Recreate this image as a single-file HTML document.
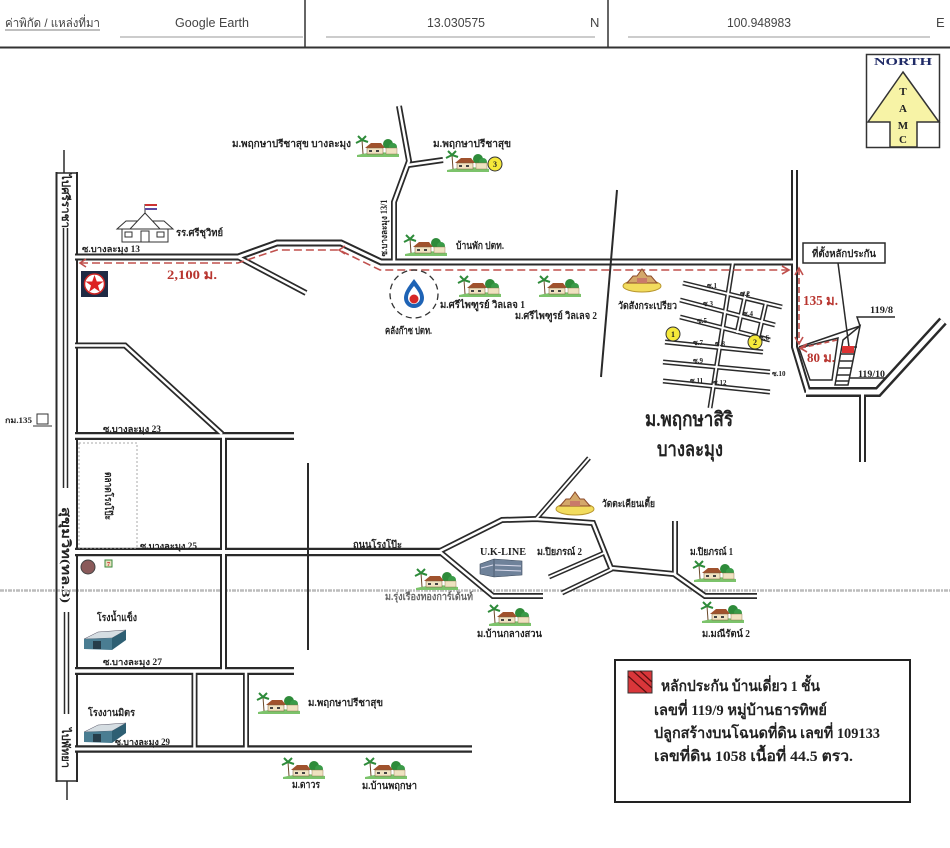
<!DOCTYPE html>
<html><head><meta charset="utf-8"><style>
html,body{margin:0;padding:0;background:#fff;}
svg{display:block;}
text{font-family:"Liberation Serif","DejaVu Serif","Noto Serif CJK SC",serif;font-weight:bold;fill:#222;}
.sans{font-family:"Liberation Sans","DejaVu Sans",sans-serif;font-weight:normal;fill:#444;}
.red{fill:#b8352f;}
</style></head><body>
<svg width="950" height="848" viewBox="0 0 950 848" xmlns="http://www.w3.org/2000/svg">
<defs>
 <g id="v">
  <path d="M2 20 Q22 15 44 19 L44 22 L2 22 Z" fill="#7cc36b"/>
  <line x1="7" y1="5" x2="8" y2="19" stroke="#6b4a2a" stroke-width="1"/>
  <path d="M7 5 L1 8 M7 5 L3 1 M7 5 L11 1 M7 5 L13 7" stroke="#2e8b3a" stroke-width="2" fill="none"/>
  <path d="M10 13 L16 8 L26 8 L30 13 Z" fill="#a0522d"/>
  <rect x="12" y="13" width="16" height="6" fill="#f1e3c2" stroke="#7a5a3a" stroke-width="0.5"/>
  <rect x="14" y="15" width="3" height="2" fill="#444"/><rect x="21" y="15" width="3" height="2" fill="#444"/>
  <circle cx="33" cy="9" r="5" fill="#2e8b3a"/>
  <circle cx="38" cy="12" r="4" fill="#3a9b48"/>
  <rect x="31" y="13" width="11" height="6" fill="#efe2c0" stroke="#8a6a44" stroke-width="0.4"/>
 </g>
 <g id="t">
  <ellipse cx="20" cy="18" rx="19" ry="6" fill="#f2dc5d" stroke="#b8962e"/>
  <path d="M5 15 L11 8 L15 8 L20 1 L25 8 L29 8 L35 15 Z" fill="#d4a86a" stroke="#8b4a2a"/>
  <rect x="15" y="10" width="10" height="5" fill="#c97a6a"/>
 </g>
 <g id="w">
  <path d="M2 9 L16 2 L44 0 L30 8 Z" fill="#d5dde2" stroke="#556" stroke-width="0.5"/>
  <path d="M2 9 L30 8 L30 20 L2 19 Z" fill="#4a7d92"/>
  <path d="M30 8 L44 0 L44 10 L30 20 Z" fill="#2e5f73"/>
  <rect x="11" y="11" width="8" height="8" fill="#263d4a"/>
 </g>
</defs>
<rect width="950" height="848" fill="#fff"/>

<!-- header -->
<line x1="0" y1="47.5" x2="950" y2="47.5" stroke="#333" stroke-width="2"/>
<line x1="305" y1="0" x2="305" y2="47" stroke="#333" stroke-width="1.5"/>
<line x1="608" y1="0" x2="608" y2="47" stroke="#333" stroke-width="1.5"/>
<text class="sans" x="5" y="27" font-size="12" textLength="95" lengthAdjust="spacingAndGlyphs">ค่าพิกัด / แหล่งที่มา</text>
<line x1="5" y1="30" x2="100" y2="30" stroke="#555" stroke-width="0.8"/>
<text class="sans" x="175" y="27" font-size="13" textLength="74" lengthAdjust="spacingAndGlyphs">Google Earth</text>
<text class="sans" x="427" y="27" font-size="13" textLength="58" lengthAdjust="spacingAndGlyphs">13.030575</text>
<text class="sans" x="590" y="27" font-size="13">N</text>
<text class="sans" x="727" y="27" font-size="13" textLength="64" lengthAdjust="spacingAndGlyphs">100.948983</text>
<text class="sans" x="936" y="27" font-size="13">E</text>
<line x1="120" y1="37" x2="303" y2="37" stroke="#999" stroke-width="1"/>
<line x1="326" y1="37" x2="595" y2="37" stroke="#999" stroke-width="1"/>
<line x1="628" y1="37" x2="930" y2="37" stroke="#999" stroke-width="1"/>

<!-- north -->
<rect x="866.5" y="54.5" width="73" height="93" fill="#fff" stroke="#333" stroke-width="1.5"/>
<text x="903" y="65" font-size="10" text-anchor="middle" style="fill:#1f2a66" textLength="58" lengthAdjust="spacingAndGlyphs">NORTH</text>
<polygon points="903,72 939,122 917,122 917,147 890,147 890,122 868,122" fill="#f7f3a6" stroke="#333" stroke-width="1.5"/>
<text x="903" y="95" font-size="11" text-anchor="middle">T</text>
<text x="903" y="112" font-size="11" text-anchor="middle">A</text>
<text x="903" y="129" font-size="11" text-anchor="middle">M</text>
<text x="903" y="143" font-size="11" text-anchor="middle">C</text>

<!-- scan line -->
<line x1="0" y1="590.5" x2="950" y2="590.5" stroke="#bcbcbc" stroke-width="2.5" stroke-dasharray="4 1 2 1"/>

<!-- Sukhumvit -->
<g stroke="#2a2a2a" fill="none">
 <line x1="56.5" y1="172" x2="56.5" y2="782" stroke-width="2"/>
 <line x1="77" y1="172" x2="77" y2="782" stroke-width="2"/>
 <line x1="55.5" y1="173" x2="78" y2="173" stroke-width="1.5"/>
 <line x1="55.5" y1="781" x2="78" y2="781" stroke-width="1.5"/>
 <line x1="64" y1="150" x2="64" y2="173" stroke-width="1.5"/>
 <line x1="67" y1="781" x2="67" y2="800" stroke-width="1.5"/>
 <line x1="63.5" y1="228" x2="63.5" y2="488" stroke-width="1.5"/>
 <line x1="67.5" y1="228" x2="67.5" y2="488" stroke-width="1.5"/>
 <line x1="64.5" y1="612" x2="64.5" y2="714" stroke-width="1.5"/>
 <line x1="68.5" y1="612" x2="68.5" y2="714" stroke-width="1.5"/>
</g>

<!-- roads dark -->
<g stroke="#2a2a2a" fill="none" stroke-linejoin="miter">
 <path d="M75 257 L238 257 L277 243 L341 243 L381 262 L795 262" stroke-width="7"/>
 <path d="M238 257 L306 293" stroke-width="6"/>
 <path d="M399 106 L409 161 L394 202 L394 262" stroke-width="6"/>
 <path d="M408 165 L443 160" stroke-width="6"/>
 <path d="M75 345.5 L125 345.5 L222 434" stroke-width="6"/>
 <path d="M75 436 L294 436" stroke-width="8"/>
 <path d="M223.5 436 L223.5 671" stroke-width="7"/>
 <path d="M75 552 L441 552" stroke-width="8.5"/>
 <path d="M438 552 L502 520 L536 519 L593 523 L611 568 L674 574 L705 596 L757 596" stroke-width="6"/>
 <path d="M440 552 L493 596 L543 596" stroke-width="6"/>
 <path d="M536 519 L589 458" stroke-width="5"/>
 <path d="M549 577 L604 553" stroke-width="5"/>
 <path d="M562 593 L612 569" stroke-width="5"/>
 <path d="M675 521 L675 574" stroke-width="6"/>
 <path d="M75 671 L294 671" stroke-width="8"/>
 <path d="M194.5 671 L194.5 749" stroke-width="6"/>
 <path d="M246 671 L246 749" stroke-width="6"/>
 <path d="M75 749 L472 749" stroke-width="7.5"/>
 <path d="M794.5 170 L794.5 347 L808 392" stroke-width="7"/>
 <path d="M806 392 L878 392 L943 321" stroke-width="10"/>
 <path d="M862.5 392 L862.5 462" stroke-width="7"/>
 <g stroke-width="5">
  <path d="M683 283 L782 307"/><path d="M680 300 L775 325"/><path d="M680 317 L770 340"/>
  <path d="M665 342 L763 352"/><path d="M663 362 L770 372"/><path d="M663 381 L770 392"/>
  <path d="M733 262 L710 408"/><path d="M746 292 L737 333"/><path d="M766 303 L758 338"/>
 </g>
</g>
<!-- roads white -->
<g stroke="#fff" fill="none" stroke-linejoin="miter">
 <path d="M75 257 L238 257 L277 243 L341 243 L381 262 L795 262" stroke-width="3"/>
 <path d="M238 257 L306 293" stroke-width="2.5"/>
 <path d="M399 106 L409 161 L394 202 L394 262" stroke-width="2.5"/>
 <path d="M408 165 L443 160" stroke-width="2.5"/>
 <path d="M75 345.5 L125 345.5 L222 434" stroke-width="2.5"/>
 <path d="M75 436 L294 436" stroke-width="3.5"/>
 <path d="M223.5 436 L223.5 671" stroke-width="3"/>
 <path d="M75 552 L441 552" stroke-width="4"/>
 <path d="M438 552 L502 520 L536 519 L593 523 L611 568 L674 574 L705 596 L757 596" stroke-width="2.5"/>
 <path d="M440 552 L493 596 L543 596" stroke-width="2.5"/>
 <path d="M536 519 L589 458" stroke-width="2"/>
 <path d="M549 577 L604 553" stroke-width="2"/>
 <path d="M562 593 L612 569" stroke-width="2"/>
 <path d="M675 521 L675 574" stroke-width="2.5"/>
 <path d="M75 671 L294 671" stroke-width="3.5"/>
 <path d="M194.5 671 L194.5 749" stroke-width="2.5"/>
 <path d="M246 671 L246 749" stroke-width="2.5"/>
 <path d="M75 749 L472 749" stroke-width="3"/>
 <path d="M794.5 170 L794.5 347 L808 392" stroke-width="3"/>
 <path d="M806 392 L878 392 L943 321" stroke-width="5"/>
 <path d="M862.5 392 L862.5 462" stroke-width="3"/>
 <g stroke-width="2">
  <path d="M683 283 L782 307"/><path d="M680 300 L775 325"/><path d="M680 317 L770 340"/>
  <path d="M665 342 L763 352"/><path d="M663 362 L770 372"/><path d="M663 381 L770 392"/>
  <path d="M733 262 L710 408"/><path d="M746 292 L737 333"/><path d="M766 303 L758 338"/>
 </g>
</g>

<!-- single lines -->
<line x1="308" y1="463" x2="308" y2="650" stroke="#2a2a2a" stroke-width="2"/>
<line x1="617" y1="190" x2="601" y2="377" stroke="#2a2a2a" stroke-width="2"/>

<!-- right block detail -->
<g stroke="#2a2a2a" fill="none" stroke-width="1.5">
 <polygon points="799,348 838,338 832,380 810,380"/>
 <line x1="799" y1="347" x2="860" y2="326"/>
 <polygon points="843,340 860,326 848,385 835,385" fill="#fff"/>
 <line x1="842" y1="347" x2="857" y2="347"/><line x1="841" y1="354" x2="855" y2="354"/>
 <line x1="840" y1="361" x2="853" y2="361"/><line x1="839" y1="368" x2="852" y2="368"/>
 <line x1="837" y1="375" x2="850" y2="375"/><line x1="836" y1="381" x2="849" y2="381"/>
 <polyline points="860,326 857,317 895,317"/>
 <polyline points="850,378 885,378"/>
 <line x1="838" y1="263" x2="849" y2="347"/>
</g>
<rect x="842" y="346" width="12" height="7" fill="#d33"/>
<rect x="803" y="243" width="82" height="20" fill="#fff" stroke="#2a2a2a" stroke-width="1.5"/>
<text x="812" y="257" font-size="10" textLength="64" lengthAdjust="spacingAndGlyphs">ที่ตั้งหลักประกัน</text>
<text x="870" y="313" font-size="9" textLength="23" lengthAdjust="spacingAndGlyphs">119/8</text>
<text x="858" y="377" font-size="9" textLength="27" lengthAdjust="spacingAndGlyphs">119/10</text>

<!-- red dashed distances -->
<g stroke="#c0504d" stroke-width="1.6" fill="none">
 <path d="M80 263 L238 263 L277 250 L339 250 L380 270 L788 270" stroke-dasharray="8 4"/>
 <polyline points="86,259 80,263 86,267"/>
 <polyline points="345,246 339,250 345,254"/>
 <polyline points="782,266 789,270 782,274"/>
 <line x1="799" y1="269" x2="799" y2="343" stroke-dasharray="6 3"/>
 <polyline points="795,275 799,268 803,275"/>
 <polyline points="795,337 799,344 803,337"/>
 <line x1="801" y1="348" x2="837" y2="340" stroke-dasharray="5 3"/>
 <polyline points="807,344 800,348 807,352"/>
</g>
<text class="red" x="167" y="279" font-size="13" textLength="50" lengthAdjust="spacingAndGlyphs">2,100 ม.</text>
<text class="red" x="803" y="305" font-size="14" textLength="35" lengthAdjust="spacingAndGlyphs">135 ม.</text>
<text class="red" x="807" y="362" font-size="13" textLength="28" lengthAdjust="spacingAndGlyphs">80 ม.</text>

<!-- school -->
<g stroke="#333" stroke-width="1" fill="#fff">
 <path d="M117 229 L126 221 L164 221 L173 229 Z"/>
 <path d="M130 229 L145 213 L160 229 Z"/>
 <rect x="122" y="229" width="46" height="13"/>
 <rect x="125" y="232" width="7" height="5"/><rect x="141" y="231" width="8" height="11"/><rect x="157" y="232" width="7" height="5"/>
 <line x1="145" y1="204" x2="145" y2="214"/>
</g>
<rect x="145" y="204" width="12" height="2" fill="#c33"/><rect x="145" y="206" width="12" height="2" fill="#fff"/><rect x="145" y="208" width="12" height="2" fill="#5a4aa0"/>

<!-- caltex -->
<rect x="81" y="271" width="27" height="26" fill="#1f2a44"/>
<circle cx="94.5" cy="284" r="10" fill="#fff" stroke="#c22" stroke-width="1.5"/>
<polygon points="94.5,275 96.8,281.5 103.5,281.5 98,285.5 100,292 94.5,288 89,292 91,285.5 85.5,281.5 92.2,281.5" fill="#d22"/>

<!-- PTT -->
<circle cx="414" cy="294" r="24" fill="none" stroke="#333" stroke-width="1.3" stroke-dasharray="6 4"/>
<path d="M414 279 C407 288 404 293 404 298 A10 10 0 0 0 424 298 C424 293 421 288 414 279 Z" fill="#1e63b5"/>
<path d="M414 286 C410 291 408 294 408 298 A6 6 0 0 0 420 298 C420 294 418 291 414 286 Z" fill="#fff"/>
<circle cx="414" cy="299" r="4.5" fill="#d62828"/>

<!-- villages -->
<use href="#v" x="355" y="135"/>
<use href="#v" x="445" y="150"/>
<use href="#v" x="403" y="234"/>
<use href="#v" x="457" y="275"/>
<use href="#v" x="537" y="275"/>
<use href="#v" x="414" y="568"/>
<use href="#v" x="487" y="604"/>
<use href="#v" x="692" y="560"/>
<use href="#v" x="700" y="601"/>
<use href="#v" x="256" y="692"/>
<use href="#v" x="281" y="757"/>
<use href="#v" x="363" y="757"/>
<!-- temples -->
<use href="#t" x="622" y="268"/>
<use href="#t" x="555" y="491"/>
<!-- warehouses -->
<use href="#w" x="82" y="630"/>
<use href="#w" x="82" y="723"/>
<!-- UK line building -->
<g>
 <path d="M480 564 L494 559 L522 561 L522 575 L494 577 L480 574 Z" fill="#6f829a" stroke="#3c4a5c" stroke-width="0.6"/>
 <line x1="494" y1="559" x2="494" y2="577" stroke="#3c4a5c" stroke-width="0.6"/>
 <line x1="495" y1="565" x2="521" y2="566" stroke="#dde" stroke-width="1"/>
 <line x1="495" y1="570" x2="521" y2="571" stroke="#dde" stroke-width="1"/>
 <line x1="481" y1="568" x2="493" y2="565" stroke="#dde" stroke-width="1"/>
</g>

<!-- yellow circles -->
<g stroke="#333" stroke-width="1" fill="#f5e83a">
 <circle cx="495" cy="164" r="7"/><circle cx="673" cy="334" r="7"/><circle cx="755" cy="342" r="7"/>
</g>
<text x="495" y="167" font-size="8" text-anchor="middle">3</text>
<text x="673" y="337" font-size="8" text-anchor="middle">1</text>
<text x="755" y="345" font-size="8" text-anchor="middle">2</text>

<!-- 7-eleven, km135 -->
<circle cx="88" cy="567" r="7" fill="#8a5a5a" stroke="#444" stroke-width="1"/>
<rect x="105" y="560" width="7" height="7" fill="#e8e0c0" stroke="#3a8a3a" stroke-width="1"/>
<text x="108.5" y="566" font-size="6" text-anchor="middle" style="fill:#c22">7</text>
<rect x="37" y="414" width="11" height="10" fill="#fff" stroke="#333" stroke-width="1"/>
<line x1="33" y1="426" x2="52" y2="426" stroke="#333" stroke-width="1"/>
<text x="5" y="423" font-size="8" textLength="27" lengthAdjust="spacingAndGlyphs">กม.135</text>

<!-- market dotted rect -->
<rect x="79" y="443" width="58" height="105" fill="none" stroke="#aaa" stroke-width="1" stroke-dasharray="2 2"/>
<text transform="translate(105,496) rotate(90)" font-size="10" text-anchor="middle" textLength="48" lengthAdjust="spacingAndGlyphs">ตลาดโรงโป๊ะ</text>

<!-- road labels on Sukhumvit -->
<text transform="translate(62,201) rotate(90)" font-size="11" text-anchor="middle" textLength="54" lengthAdjust="spacingAndGlyphs">ไปศรีราชา</text>
<text transform="translate(62,555) rotate(90)" font-size="12" text-anchor="middle" textLength="96" lengthAdjust="spacingAndGlyphs">สุขุมวิท(ทล.3)</text>
<text transform="translate(62,748) rotate(90)" font-size="11" text-anchor="middle" textLength="40" lengthAdjust="spacingAndGlyphs">ไปพัทยา</text>
<text transform="translate(387,228) rotate(-90)" font-size="9" text-anchor="middle" textLength="57" lengthAdjust="spacingAndGlyphs">ซ.บางละมุง 13/1</text>

<!-- labels -->
<g font-size="10">
 <text x="232" y="147" textLength="119" lengthAdjust="spacingAndGlyphs">ม.พฤกษาปรีชาสุข บางละมุง</text>
 <text x="433" y="147" textLength="78" lengthAdjust="spacingAndGlyphs">ม.พฤกษาปรีชาสุข</text>
 <text x="176" y="236" textLength="47" lengthAdjust="spacingAndGlyphs">รร.ศรีชุวิทย์</text>
 <text x="82" y="252" font-size="9" textLength="58" lengthAdjust="spacingAndGlyphs">ซ.บางละมุง 13</text>
 <text x="456" y="249" textLength="48" lengthAdjust="spacingAndGlyphs">บ้านพัก ปตท.</text>
 <text x="385" y="334" textLength="47" lengthAdjust="spacingAndGlyphs">คลังก๊าซ ปตท.</text>
 <text x="440" y="308" textLength="85" lengthAdjust="spacingAndGlyphs">ม.ศรีไพฑูรย์ วิลเลจ 1</text>
 <text x="515" y="319" textLength="82" lengthAdjust="spacingAndGlyphs">ม.ศรีไพฑูรย์ วิลเลจ 2</text>
 <text x="618" y="309" textLength="59" lengthAdjust="spacingAndGlyphs">วัดสังกระเปรียว</text>
 <text x="103" y="432" font-size="9" textLength="58" lengthAdjust="spacingAndGlyphs">ซ.บางละมุง 23</text>
 <text x="140" y="549" font-size="9" textLength="57" lengthAdjust="spacingAndGlyphs">ซ.บางละมุง 25</text>
 <text x="353" y="548" textLength="49" lengthAdjust="spacingAndGlyphs">ถนนโรงโป๊ะ</text>
 <text x="480" y="555" textLength="46" lengthAdjust="spacingAndGlyphs">U.K-LINE</text>
 <text x="537" y="555" textLength="45" lengthAdjust="spacingAndGlyphs">ม.ปิยภรณ์ 2</text>
 <text x="602" y="507" textLength="53" lengthAdjust="spacingAndGlyphs">วัดตะเคียนเตี้ย</text>
 <text x="690" y="555" textLength="43" lengthAdjust="spacingAndGlyphs">ม.ปิยภรณ์ 1</text>
 <text x="385" y="600" style="fill:#666" textLength="88" lengthAdjust="spacingAndGlyphs">ม.รุ่งเรืองทองการ์เด้นท์</text>
 <text x="477" y="637" textLength="65" lengthAdjust="spacingAndGlyphs">ม.บ้านกลางสวน</text>
 <text x="702" y="637" textLength="48" lengthAdjust="spacingAndGlyphs">ม.มณีรัตน์ 2</text>
 <text x="97" y="621" textLength="40" lengthAdjust="spacingAndGlyphs">โรงน้ำแข็ง</text>
 <text x="103" y="665" font-size="9" textLength="59" lengthAdjust="spacingAndGlyphs">ซ.บางละมุง 27</text>
 <text x="88" y="716" textLength="47" lengthAdjust="spacingAndGlyphs">โรงงานมิตร</text>
 <text x="115" y="745" font-size="9" textLength="55" lengthAdjust="spacingAndGlyphs">ซ.บางละมุง 29</text>
 <text x="308" y="706" textLength="75" lengthAdjust="spacingAndGlyphs">ม.พฤกษาปรีชาสุข</text>
 <text x="292" y="788" textLength="28" lengthAdjust="spacingAndGlyphs">ม.ดาวร</text>
 <text x="362" y="789" textLength="55" lengthAdjust="spacingAndGlyphs">ม.บ้านพฤกษา</text>
</g>
<!-- soi labels -->
<g font-size="7">
 <text x="707" y="288">ซ.1</text><text x="740" y="296">ซ.2</text>
 <text x="703" y="306">ซ.3</text><text x="743" y="316">ซ.4</text>
 <text x="697" y="323">ซ.5</text><text x="759" y="340">ซ.6</text>
 <text x="693" y="345">ซ.7</text><text x="715" y="346">ซ.8</text>
 <text x="693" y="363">ซ.9</text><text x="772" y="376">ซ.10</text>
 <text x="690" y="383">ซ.11</text><text x="713" y="385">ซ.12</text>
</g>
<text x="645" y="426" font-size="20" textLength="88" lengthAdjust="spacingAndGlyphs">ม.พฤกษาสิริ</text>
<text x="657" y="456" font-size="20" textLength="66" lengthAdjust="spacingAndGlyphs">บางละมุง</text>

<!-- legend -->
<rect x="615" y="660" width="295" height="142" fill="#fff" stroke="#222" stroke-width="2"/>
<rect x="628" y="671" width="24" height="22" fill="#d9363a" stroke="#333" stroke-width="1"/>
<g stroke="#5a1010" stroke-width="1.2">
 <line x1="628" y1="676" x2="647" y2="693"/><line x1="633" y1="671" x2="652" y2="688"/><line x1="640" y1="671" x2="652" y2="682"/>
</g>
<g font-size="15">
 <text x="661" y="691" textLength="159" lengthAdjust="spacingAndGlyphs">หลักประกัน บ้านเดี่ยว 1 ชั้น</text>
 <text x="654" y="715" textLength="173" lengthAdjust="spacingAndGlyphs">เลขที่ 119/9 หมู่บ้านธารทิพย์</text>
 <text x="654" y="738" textLength="226" lengthAdjust="spacingAndGlyphs">ปลูกสร้างบนโฉนดที่ดิน เลขที่ 109133</text>
 <text x="654" y="761" textLength="199" lengthAdjust="spacingAndGlyphs">เลขที่ดิน 1058 เนื้อที่ 44.5  ตรว.</text>
</g>
</svg>
</body></html>
